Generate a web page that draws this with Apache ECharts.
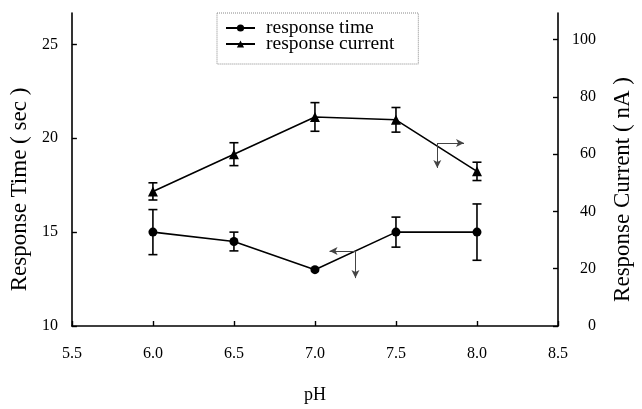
<!DOCTYPE html>
<html>
<head>
<meta charset="utf-8">
<script src="https://cdn.jsdelivr.net/npm/echarts@6/dist/echarts.min.js"></script>
<style>
  html, body { margin: 0; padding: 0; background: #fff; }
  #main { width: 642px; height: 409px; }
</style>
</head>
<body>
<div id="main"></div>
<script>
const pH = [6.0, 6.5, 7.0, 7.5, 8.0];
const responseTime = [15.0, 14.5, 13.0, 15.0, 15.0];
const timeErr = [1.2, 0.5, 0, 0.8, 1.5];
const responseCurrent = [47, 60, 73, 72, 54];
const currentErr = [3, 4, 5, 4.3, 3.2];

// annotation arrows (data coords): start point, horizontal tip, vertical tip
const timeArrow = { at: [7.25, 14.0], left: 7.09, down: 12.55 };
const currentArrow = { at: [7.755, 63.9], right: 7.92, down: 55.2 };

const FONT = '"Liberation Serif", "Times New Roman", serif';

function errorBars(name, ys, errs, axis) {
  return {
    name: name,
    type: 'custom',
    yAxisIndex: axis,
    silent: true,
    z: 1,
    data: pH.map((x, i) => [x, ys[i] - errs[i], ys[i] + errs[i]]).filter((d, i) => errs[i] > 0),
    renderItem(params, api) {
      const lo = api.coord([api.value(0), api.value(1)]);
      const hi = api.coord([api.value(0), api.value(2)]);
      const w = 4.5;
      const st = { stroke: '#000', lineWidth: 1.6 };
      return {
        type: 'group',
        children: [
          { type: 'line', shape: { x1: lo[0], y1: lo[1], x2: hi[0], y2: hi[1] }, style: st },
          { type: 'line', shape: { x1: lo[0] - w, y1: lo[1], x2: lo[0] + w, y2: lo[1] }, style: st },
          { type: 'line', shape: { x1: hi[0] - w, y1: hi[1], x2: hi[0] + w, y2: hi[1] }, style: st }
        ]
      };
    }
  };
}

function arrowLines(a, horizTip) {
  return [
    [{ coord: a.at }, { coord: [horizTip, a.at[1]] }],
    [{ coord: a.at }, { coord: [a.at[0], a.down] }]
  ];
}

const chart = echarts.init(document.getElementById('main'));

const arrowStyle = {
  silent: true,
  symbol: ['none', 'arrow'],
  symbolSize: [6, 8],
  label: { show: false },
  lineStyle: { color: '#444', width: 1, type: 'solid' },
  emphasis: { disabled: true }
};

chart.setOption({
  animation: false,
  textStyle: { fontFamily: FONT },
  grid: { left: 71, right: 76, top: 13, bottom: 75 },
  legend: {
    orient: 'vertical',
    left: 217,
    top: 13,
    padding: [5, 24, 10, 8],
    itemWidth: 29,
    itemHeight: 9,
    itemGap: -4,
    borderColor: '#888',
    borderWidth: 1,
    borderType: 'dotted',
    textStyle: { fontFamily: FONT, fontSize: 19.5, color: '#000', padding: [0, 0, 0, 6] },
    data: ['response time', 'response current']
  },
  xAxis: {
    type: 'value',
    min: 5.5,
    max: 8.5,
    interval: 0.5,
    name: 'pH',
    nameLocation: 'middle',
    nameGap: 60,
    nameTextStyle: { fontFamily: FONT, fontSize: 18, color: '#000' },
    axisLine: { lineStyle: { color: '#000', width: 1.6 } },
    axisTick: { inside: true, length: 5, lineStyle: { color: '#000', width: 1.4 } },
    axisLabel: { margin: 20, fontSize: 16, color: '#000', fontFamily: FONT, formatter: v => v.toFixed(1) },
    splitLine: { show: false }
  },
  yAxis: [
    {
      type: 'value',
      min: 10,
      max: 26.67,
      interval: 5,
      name: 'Response Time ( sec )',
      nameLocation: 'middle',
      nameRotate: 90,
      nameGap: 40,
      nameTextStyle: { fontFamily: FONT, fontSize: 23, color: '#000', padding: [0, 40, 0, 0] },
      axisLine: { show: true, lineStyle: { color: '#000', width: 1.6 } },
      axisTick: { show: true, inside: true, length: 5, lineStyle: { color: '#000', width: 1.4 } },
      axisLabel: { margin: 14, fontSize: 16, color: '#000', fontFamily: FONT, showMaxLabel: false },
      splitLine: { show: false }
    },
    {
      type: 'value',
      position: 'right',
      min: 0,
      max: 109.3,
      interval: 20,
      name: 'Response Current ( nA )',
      nameLocation: 'middle',
      nameRotate: 90,
      nameGap: 53,
      nameTextStyle: { fontFamily: FONT, fontSize: 23, color: '#000', padding: [0, 40, 0, 0] },
      axisLine: { show: true, lineStyle: { color: '#000', width: 1.6 } },
      axisTick: { show: true, inside: true, length: 5, lineStyle: { color: '#000', width: 1.4 } },
      axisLabel: { margin: 38, align: 'right', fontSize: 16, color: '#000', fontFamily: FONT, showMaxLabel: false },
      splitLine: { show: false }
    }
  ],
  series: [
    errorBars('time error', responseTime, timeErr, 0),
    errorBars('current error', responseCurrent, currentErr, 1),
    {
      name: 'response time',
      type: 'line',
      yAxisIndex: 0,
      data: pH.map((x, i) => [x, responseTime[i]]),
      symbol: 'circle',
      symbolSize: 9,
      itemStyle: { color: '#000' },
      lineStyle: { color: '#000', width: 1.6 },
      z: 3,
      markLine: Object.assign({ data: arrowLines(timeArrow, timeArrow.left) }, arrowStyle)
    },
    {
      name: 'response current',
      type: 'line',
      yAxisIndex: 1,
      data: pH.map((x, i) => [x, responseCurrent[i]]),
      symbol: 'triangle',
      symbolSize: 10,
      itemStyle: { color: '#000' },
      lineStyle: { color: '#000', width: 1.6 },
      z: 3,
      markLine: Object.assign({ data: arrowLines(currentArrow, currentArrow.right) }, arrowStyle)
    }
  ]
});
</script>
</body>
</html>
